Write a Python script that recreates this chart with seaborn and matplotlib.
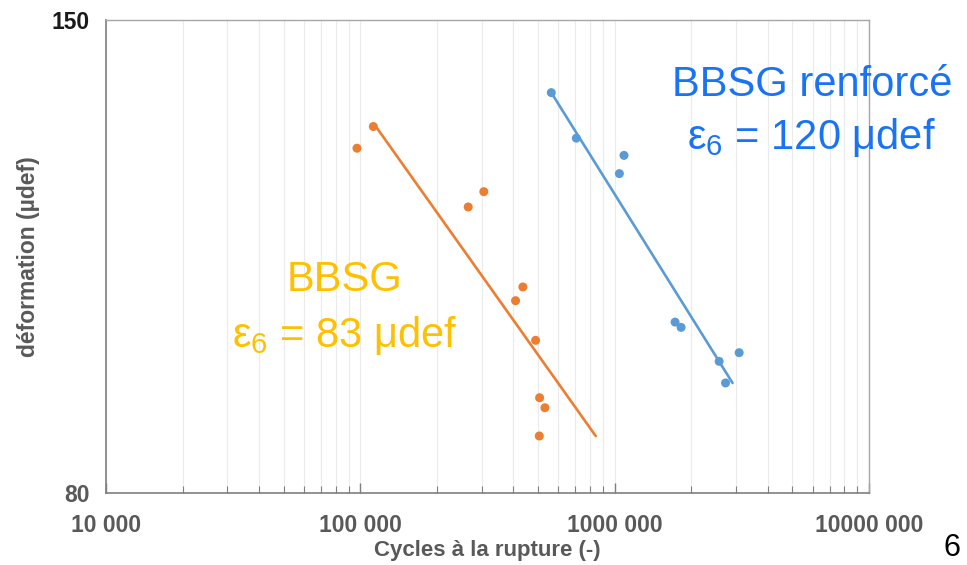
import numpy as np
import pandas as pd
import matplotlib
matplotlib.use("Agg")
import matplotlib.pyplot as plt
import matplotlib.ticker as mticker
import seaborn as sns

# points (cycles, microstrain)
bbsg_cycles = [97000, 112500, 265500, 305800, 407600, 435500, 488700, 506700, 531600, 505300]
bbsg_def = [126.5, 130.2, 117.0, 119.4, 103.3, 105.2, 98.0, 90.8, 89.6, 86.3]

renf_cycles = [563300, 706700, 1088000, 1043500, 1727700, 1824000, 2574000, 3086000, 2728000]
renf_def = [136.2, 128.2, 125.3, 122.3, 100.4, 99.7, 95.3, 96.4, 92.6]

# trend lines (end points as drawn)
bbsg_fit_cycles = [116400, 842000]
bbsg_fit_def = [129.9, 86.3]
renf_fit_cycles = [563300, 2906000]
renf_fit_def = [136.2, 92.6]

x_ticks = [1e4, 1e5, 1e6, 1e7]
x_labels = ["10 000", "100 000", "1000 000", "10000 000"]
y_ticks = [80, 150]

orange = "#ED7D31"
blue = "#5B9BD5"
gray = "#595959"

sns.set_theme(style="white")
plt.rcParams["font.family"] = ["Liberation Sans", "DejaVu Sans"]
plt.rcParams["mathtext.default"] = "regular"

fig = plt.figure(figsize=(9.67, 5.65), dpi=100)
ax = fig.add_axes([0.1096, 0.1274, 0.7891, 0.8372])

df_b = pd.DataFrame({"cycles": bbsg_cycles, "def": bbsg_def})
df_r = pd.DataFrame({"cycles": renf_cycles, "def": renf_def})
fit_b = pd.DataFrame({"cycles": bbsg_fit_cycles, "def": bbsg_fit_def})
fit_r = pd.DataFrame({"cycles": renf_fit_cycles, "def": renf_fit_def})

ax.set_xscale("log")
ax.set_yscale("log")

sns.lineplot(data=fit_b, x="cycles", y="def", color=orange, lw=1.9, ax=ax, zorder=3)
sns.lineplot(data=fit_r, x="cycles", y="def", color=blue, lw=1.9, ax=ax, zorder=3)
sns.scatterplot(data=df_b, x="cycles", y="def", color=orange, s=42, edgecolor="none", ax=ax, zorder=4)
sns.scatterplot(data=df_r, x="cycles", y="def", color=blue, s=42, edgecolor="none", ax=ax, zorder=4)

ax.set_xlim(1e4, 1e7)
ax.set_ylim(80, 150)

ax.xaxis.set_minor_locator(mticker.LogLocator(base=10, subs=np.arange(2, 10)))
ax.xaxis.set_minor_formatter(mticker.NullFormatter())
ax.set_xticks(x_ticks)
ax.set_xticklabels(x_labels, fontsize=16.5, fontweight="bold", color=gray)

ax.yaxis.set_minor_locator(mticker.NullLocator())
ax.set_yticks(y_ticks)
ax.set_yticklabels(["80", "150"], fontsize=16.5, fontweight="bold")
ylabs = ax.get_yticklabels()
ylabs[0].set_color(gray)
ylabs[1].set_color("#1a1a1a")

ax.tick_params(axis="x", which="major", direction="in", length=7, width=1, color="#7f7f7f", pad=15, bottom=True)
ax.tick_params(axis="x", which="minor", direction="in", length=5, width=0.8, color="#7f7f7f", bottom=True)
ax.tick_params(axis="y", length=0, pad=12)

ax.grid(axis="x", which="both", color="#ebebeb", lw=0.8)
ax.grid(axis="y", visible=False)

for side in ["left", "bottom"]:
    ax.spines[side].set_color("#7f7f7f")
    ax.spines[side].set_linewidth(1.2)
for side in ["top", "right"]:
    ax.spines[side].set_color("#a6a6a6")
    ax.spines[side].set_linewidth(1.0)

ax.set_xlabel("Cycles à la rupture (-)", fontsize=16, fontweight="bold", color=gray, labelpad=2)
ax.set_ylabel("déformation (µdef)", fontsize=16.5, fontweight="bold", color=gray, labelpad=8)

# annotations
ax.text(0.313, 0.450, "BBSG", transform=ax.transAxes, ha="center", va="center",
        fontsize=30, color="#FFC000", zorder=5)
ax.text(0.313, 0.334, "ε$_6$ = 83 μdef", transform=ax.transAxes, ha="center", va="center",
        fontsize=30, color="#FFC000", zorder=5)
ax.text(0.925, 0.8626, "BBSG renforcé", transform=ax.transAxes, ha="center", va="center",
        fontsize=30, color="#1874F5", zorder=5, clip_on=False)
ax.text(0.925, 0.7526, "ε$_6$ = 120 μdef", transform=ax.transAxes, ha="center", va="center",
        fontsize=30, color="#1874F5", zorder=5, clip_on=False)

# slide number
fig.text(952 / 967, 0.004, "6", ha="center", va="bottom", fontsize=22, color="black")

fig.savefig("out.png", dpi=100)
